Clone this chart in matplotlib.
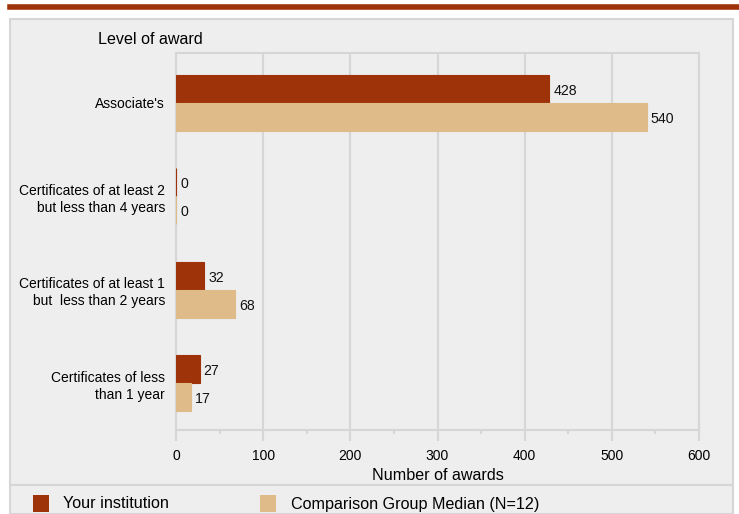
import numpy as np
import matplotlib.pyplot as plt
from matplotlib.patches import Rectangle
from matplotlib.lines import Line2D

plt.rcParams['font.family'] = ['Liberation Sans', 'DejaVu Sans']

categories = ["Associate's",
              "Certificates of at least 2\nbut less than 4 years",
              "Certificates of at least 1\nbut  less than 2 years",
              "Certificates of less\nthan 1 year"]
your_inst = [428, 0, 32, 27]
comparison = [540, 0, 68, 17]
xticks = [0, 100, 200, 300, 400, 500, 600]

dark = "#9e3208"
light = "#e0bb8a"
grid_c = "#d6d6d6"
bg = "#eeeeee"

fig = plt.figure(figsize=(7.39, 5.14), dpi=100)
W, H = 739, 514

def fx(px):
    return px / W

def fy(py):
    return 1 - py / H

# top red rule
fig.add_artist(Line2D([fx(10), 1], [fy(7), fy(7)], color=dark, lw=4))
# panel box (behind the axes)
fig.add_artist(Rectangle((fx(10), 0), fx(733) - fx(10), fy(19),
                         facecolor=bg, edgecolor=grid_c, lw=1.5, zorder=-10))
fig.add_artist(Line2D([fx(10), fx(733)], [fy(485), fy(485)], color=grid_c, lw=1.5))

ax = fig.add_axes([fx(176), fy(430), fx(699) - fx(176), fy(53) - fy(430)])
ax.set_zorder(5)
ax.patch.set_alpha(0)

y = np.arange(len(categories))
h = 0.3
ax.barh(y - h / 2, your_inst, height=h, color=dark, edgecolor=dark,
        lw=0.8, zorder=3)
ax.barh(y + h / 2, comparison, height=h, color=light, edgecolor=light,
        lw=0.8, zorder=3)
for i in range(len(categories)):
    ax.annotate(str(your_inst[i]), (your_inst[i], y[i] - h / 2),
                xytext=(3, -1.5), textcoords="offset points", va="center",
                ha="left", fontsize=10.2, color="#111111")
    ax.annotate(str(comparison[i]), (comparison[i], y[i] + h / 2),
                xytext=(3, -1.5), textcoords="offset points", va="center",
                ha="left", fontsize=10.2, color="#111111")

ax.set_xlim(0, 600)
ax.set_ylim(3.5, -0.53)
ax.set_xticks(xticks)
ax.set_xticks(np.arange(50, 600, 100), minor=True)
ax.set_xticklabels([str(t) for t in xticks], fontsize=10)
ax.set_yticks(y)
ax.set_yticklabels(categories, fontsize=10, linespacing=1.3)
ax.grid(axis="x", color=grid_c, lw=1.5, zorder=0)
for s in ax.spines.values():
    s.set_color(grid_c)
    s.set_linewidth(1.5)
ax.tick_params(axis="x", which="major", length=8, width=1.5, color=grid_c, pad=6)
ax.tick_params(axis="x", which="minor", length=3, width=1.5, color=grid_c)
ax.tick_params(axis="y", length=0, pad=8)
ax.set_xlabel("Number of awards", fontsize=11.6, labelpad=3)

fig.text(fx(98), fy(40), "Level of award", fontsize=11.6, va="center", ha="left")

# legend
fig.add_artist(Rectangle((fx(33), fy(512)), fx(16), fy(495) - fy(512),
                         facecolor=dark, edgecolor="none"))
fig.text(fx(63), fy(504), "Your institution", fontsize=11.6, va="center")
fig.add_artist(Rectangle((fx(260), fy(512)), fx(16), fy(495) - fy(512),
                         facecolor=light, edgecolor="none"))
fig.text(fx(291), fy(504), "Comparison Group Median (N=12)", fontsize=11.6, va="center")

fig.savefig("out.png", dpi=100, facecolor="white")
